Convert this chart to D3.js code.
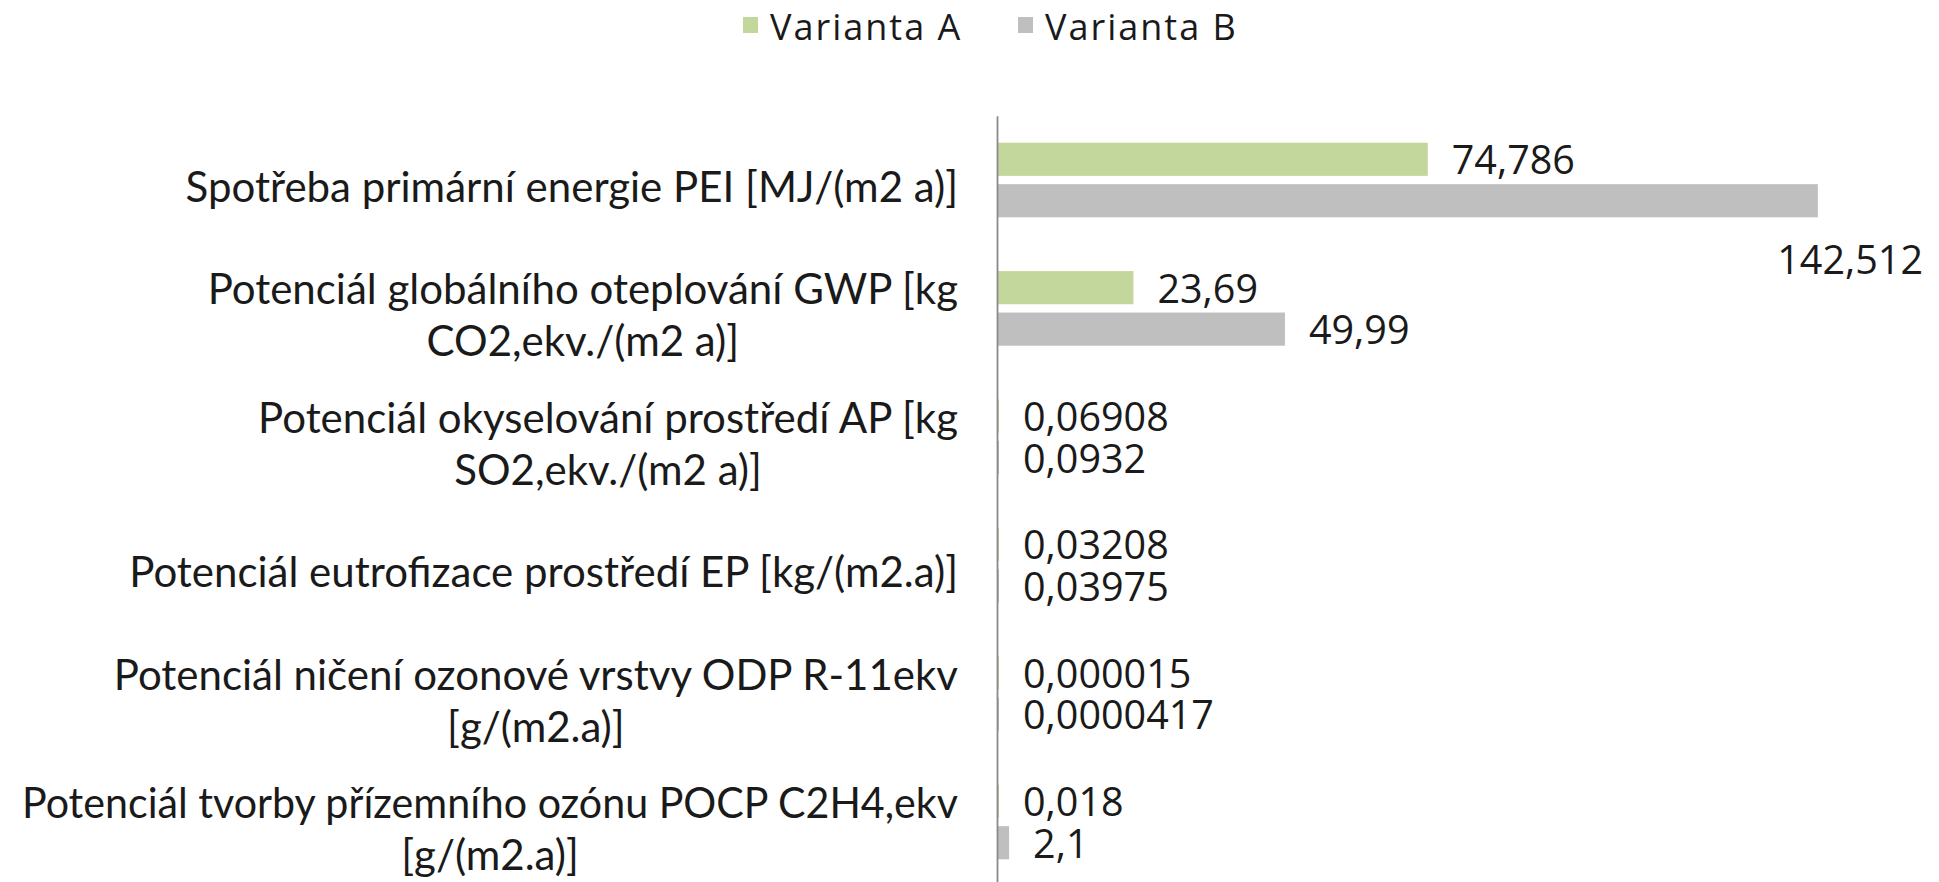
<!DOCTYPE html>
<html><head><meta charset="utf-8">
<script src="https://cdn.jsdelivr.net/npm/d3@7"></script>
<style>
html,body{margin:0;padding:0;background:#fff;overflow:hidden}
</style></head>
<body>
<script>
// ---- data ----
const categories = [
  "Spotřeba primární energie PEI [MJ/(m2 a)]",
  "Potenciál globálního oteplování GWP [kg CO2,ekv./(m2 a)]",
  "Potenciál okyselování prostředí AP [kg SO2,ekv./(m2 a)]",
  "Potenciál eutrofizace prostředí EP [kg/(m2.a)]",
  "Potenciál ničení ozonové vrstvy ODP R-11ekv [g/(m2.a)]",
  "Potenciál tvorby přízemního ozónu POCP C2H4,ekv [g/(m2.a)]"
];
const categoryLines = [
  ["Spotřeba primární energie PEI [MJ/(m2 a)]"],
  ["Potenciál globálního oteplování GWP [kg", "CO2,ekv./(m2 a)]"],
  ["Potenciál okyselování prostředí AP [kg", "SO2,ekv./(m2 a)]"],
  ["Potenciál eutrofizace prostředí EP [kg/(m2.a)]"],
  ["Potenciál ničení ozonové vrstvy ODP R-11ekv", "[g/(m2.a)]"],
  ["Potenciál tvorby přízemního ozónu POCP C2H4,ekv", "[g/(m2.a)]"]
];
const seriesNames = ["Varianta A", "Varianta B"];
const valuesA = [74.786, 23.69, 0.06908, 0.03208, 0.000015, 0.018];
const valuesB = [142.512, 49.99, 0.0932, 0.03975, 0.0000417, 2.1];
const labelsA = ["74,786", "23,69", "0,06908", "0,03208", "0,000015", "0,018"];
const labelsB = ["142,512", "49,99", "0,0932", "0,03975", "0,0000417", "2,1"];
const seriesColors = ["#C3D69B", "#BFBFBF"];

// ---- layout ----
const W = 1939, H = 882;
const svg = d3.select("body").append("svg").attr("width", W).attr("height", H);

const x = d3.scaleLinear().domain([0, 160]).range([997, 997 + 160 * 5.76]);
const y = d3.scaleBand().domain(categories).range([115.8, 886.2])
  .paddingInner(0.419).paddingOuter(0.2095);
const ySub = d3.scaleBand().domain(seriesNames).range([0, y.bandwidth()]).paddingInner(0.2);

const rows = categories.map((c, i) => ({
  cat: c, lines: categoryLines[i],
  vals: [valuesA[i], valuesB[i]],
  labs: [labelsA[i], labelsB[i]]
}));

const labelFont = "'Open Sans', 'Noto Sans', sans-serif";
const catFont = "Lato, sans-serif";
const catSize = 42;
const catRight = 958;
const catMaxW = 936;

// bars
const g = svg.append("g");
rows.forEach(r => {
  seriesNames.forEach((s, si) => {
    const v = r.vals[si];
    const y0 = y(r.cat) + ySub(s);
    const w = Math.max(x(v) - x(0), 2);
    g.append("rect")
      .attr("x", x(0)).attr("y", y0)
      .attr("width", w).attr("height", ySub.bandwidth())
      .attr("fill", seriesColors[si]);
    // data label
    const cy = y0 + ySub.bandwidth() / 2;
    const lx = x(0) + w + 24;
    const t = g.append("text")
      .attr("font-family", labelFont).attr("font-size", 39.5)
      .attr("fill", "#1a1a1a").attr("dominant-baseline", "central")
      .attr("x", lx).attr("y", cy)
      .text(r.labs[si]);
    const len = t.node().getComputedTextLength();
    if (lx + len > W - 10) {
      // label moved below the bar when it would overflow
      t.attr("text-anchor", "end").attr("x", W - 16).attr("y", cy + 58);
    }
  });
});

// axis line (category axis)
const yAxis = d3.axisLeft(y).tickSize(0).tickFormat("");
svg.append("g").attr("transform", `translate(${x(0)},0)`).call(yAxis)
  .call(gg => gg.select(".domain").attr("stroke", "#8a8a8a").attr("stroke-width", 1.8));

// category labels: lines centred on each other, block right-aligned
const lineH = 52;
const catG = svg.append("g");
rows.forEach(r => {
  const cy = y(r.cat) + y.bandwidth() / 2 + 6;
  const n = r.lines.length;
  const texts = r.lines.map((ln, li) => catG.append("text")
    .attr("font-family", catFont).attr("font-size", catSize).attr("fill", "#1a1a1a")
    .attr("dominant-baseline", "central").attr("text-anchor", "middle")
    .attr("y", cy + (li - (n - 1) / 2) * lineH)
    .text(ln));
  const lens = texts.map(t => {
    let l = t.node().getComputedTextLength();
    if (l > catMaxW) {
      t.attr("textLength", catMaxW).attr("lengthAdjust", "spacingAndGlyphs");
      l = catMaxW;
    }
    return l;
  });
  const blockW = d3.max(lens);
  const center = catRight - blockW / 2;
  texts.forEach(t => t.attr("x", center));
});

// legend
const legend = svg.append("g");
const legX = [743, 1018];
seriesNames.forEach((s, i) => {
  legend.append("rect").attr("x", legX[i]).attr("y", 17).attr("width", 15).attr("height", 16)
    .attr("fill", seriesColors[i]);
  legend.append("text").attr("x", legX[i] + 27).attr("y", 26)
    .attr("font-family", labelFont).attr("font-size", 36).attr("letter-spacing", 2)
    .attr("dominant-baseline", "central").attr("fill", "#1a1a1a").text(s);
});
</script>
</body></html>
